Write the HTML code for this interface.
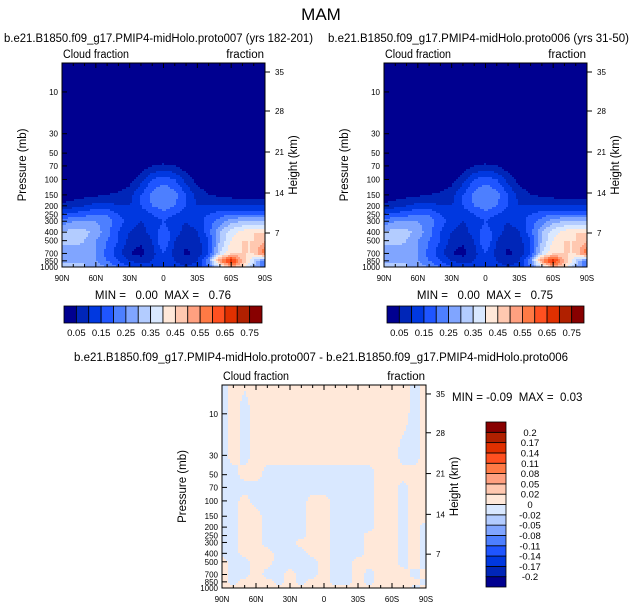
<!DOCTYPE html>
<html><head><meta charset="utf-8">
<style>
html,body{margin:0;padding:0;background:#fff;}
svg{display:block;font-family:"Liberation Sans",sans-serif;}
.t{font-size:11.5px;fill:#000;white-space:pre;}
.tk{font-size:8px;fill:#000;}
.cb{font-size:9.5px;fill:#000;}
</style></head>
<body>
<svg id="fig" width="642" height="610" viewBox="0 0 642 610">
<text x="321" y="20" text-anchor="middle" style="font-size:17px">MAM</text>
<text x="4" y="42" class="t" textLength="309" lengthAdjust="spacingAndGlyphs">b.e21.B1850.f09_g17.PMIP4-midHolo.proto007 (yrs 182-201)</text>
<text x="328" y="42" class="t" textLength="301" lengthAdjust="spacingAndGlyphs">b.e21.B1850.f09_g17.PMIP4-midHolo.proto006 (yrs 31-50)</text>
<text x="321" y="361" text-anchor="middle" class="t" textLength="494" lengthAdjust="spacingAndGlyphs">b.e21.B1850.f09_g17.PMIP4-midHolo.proto007 - b.e21.B1850.f09_g17.PMIP4-midHolo.proto006</text>
<g id="panels"></g>
</svg>
<script>
// ---- data ----
const lats = [90,80,70,60,50,40,30,20,10,0,-10,-20,-30,-40,-50,-60,-70,-80,-90];
const pLevels = [1000,850,700,500,400,300,250,200,150,100,70,50,30,10,3];
const cloudA = [
[0.3,0.32,0.3,0.28,0.25,0.2,0.15,0.12,0.12,0.15,0.12,0.1,0.12,0.2,0.35,0.5,0.45,0.3,0.2],
[0.3,0.28,0.3,0.25,0.2,0.15,0.1,0.08,0.1,0.15,0.1,0.08,0.1,0.25,0.55,0.7,0.5,0.35,0.2],
[0.3,0.27,0.28,0.25,0.18,0.12,0.05,0.03,0.08,0.15,0.08,0.04,0.06,0.15,0.35,0.45,0.45,0.45,0.6],
[0.3,0.32,0.3,0.25,0.2,0.15,0.08,0.06,0.1,0.2,0.1,0.06,0.08,0.15,0.3,0.4,0.45,0.45,0.5],
[0.3,0.33,0.32,0.28,0.22,0.15,0.1,0.08,0.12,0.18,0.12,0.08,0.1,0.18,0.3,0.38,0.42,0.45,0.45],
[0.22,0.25,0.25,0.25,0.22,0.18,0.12,0.1,0.12,0.15,0.12,0.1,0.12,0.18,0.22,0.28,0.3,0.3,0.3],
[0.15,0.17,0.18,0.2,0.2,0.15,0.12,0.12,0.15,0.18,0.15,0.12,0.12,0.15,0.18,0.2,0.2,0.2,0.2],
[0.06,0.08,0.1,0.12,0.12,0.1,0.1,0.15,0.2,0.23,0.2,0.15,0.1,0.1,0.1,0.1,0.1,0.1,0.1],
[0.02,0.02,0.03,0.04,0.05,0.06,0.08,0.15,0.22,0.25,0.22,0.15,0.08,0.05,0.04,0.03,0.03,0.02,0.02],
[0,0,0,0,0,0.01,0.03,0.08,0.15,0.18,0.15,0.08,0.03,0.01,0,0,0,0,0],
[0,0,0,0,0,0,0,0.02,0.05,0.06,0.05,0.02,0,0,0,0,0,0,0],
[0,0,0,0,0,0,0,0,0,0,0,0,0,0,0,0,0,0,0],
[0,0,0,0,0,0,0,0,0,0,0,0,0,0,0,0,0,0,0],
[0,0,0,0,0,0,0,0,0,0,0,0,0,0,0,0,0,0,0],
[0,0,0,0,0,0,0,0,0,0,0,0,0,0,0,0,0,0,0]];
const cloudB = [
[0.3,0.32,0.3,0.28,0.25,0.2,0.15,0.12,0.12,0.15,0.12,0.1,0.12,0.2,0.35,0.5,0.45,0.3,0.2],
[0.3,0.28,0.3,0.25,0.2,0.15,0.1,0.08,0.1,0.15,0.1,0.08,0.1,0.25,0.55,0.69,0.5,0.35,0.2],
[0.3,0.27,0.28,0.25,0.18,0.12,0.05,0.03,0.08,0.15,0.08,0.04,0.06,0.15,0.35,0.45,0.45,0.45,0.6],
[0.3,0.32,0.3,0.25,0.2,0.15,0.08,0.06,0.1,0.2,0.1,0.06,0.08,0.15,0.3,0.4,0.45,0.45,0.5],
[0.3,0.33,0.32,0.28,0.22,0.15,0.1,0.08,0.12,0.18,0.12,0.08,0.1,0.18,0.3,0.38,0.42,0.45,0.45],
[0.22,0.25,0.25,0.25,0.22,0.18,0.12,0.1,0.12,0.15,0.12,0.1,0.12,0.18,0.22,0.28,0.3,0.3,0.3],
[0.15,0.17,0.18,0.2,0.2,0.15,0.12,0.12,0.15,0.18,0.15,0.12,0.12,0.15,0.18,0.2,0.2,0.2,0.2],
[0.06,0.08,0.1,0.12,0.12,0.1,0.1,0.15,0.2,0.23,0.2,0.15,0.1,0.1,0.1,0.1,0.1,0.1,0.1],
[0.02,0.02,0.03,0.04,0.05,0.06,0.08,0.15,0.22,0.25,0.22,0.15,0.08,0.05,0.04,0.03,0.03,0.02,0.02],
[0,0,0,0,0,0.01,0.03,0.08,0.15,0.18,0.15,0.08,0.03,0.01,0,0,0,0,0],
[0,0,0,0,0,0,0,0.02,0.05,0.06,0.05,0.02,0,0,0,0,0,0,0],
[0,0,0,0,0,0,0,0,0,0,0,0,0,0,0,0,0,0,0],
[0,0,0,0,0,0,0,0,0,0,0,0,0,0,0,0,0,0,0],
[0,0,0,0,0,0,0,0,0,0,0,0,0,0,0,0,0,0,0],
[0,0,0,0,0,0,0,0,0,0,0,0,0,0,0,0,0,0,0]];
const p=0.01, n=-0.01;
const cloudDiff = [
[p,p,p,p,p,p,p,p,p,p,p,p,p,p,p,p,p,n,p],
[p,n,p,p,p,n,p,n,p,p,n,n,p,n,p,p,p,p,n],
[p,n,n,p,n,n,p,n,n,p,n,n,p,n,p,p,p,n,p],
[p,n,n,p,p,n,n,n,n,p,n,n,p,p,p,p,n,p,n],
[n,n,p,p,p,n,n,n,p,p,n,n,n,p,p,p,n,p,n],
[n,n,p,p,n,n,n,p,p,p,n,n,n,p,p,p,n,p,n],
[n,n,p,p,n,n,n,n,p,p,n,n,n,p,p,p,n,p,n],
[n,n,p,p,n,n,n,n,p,p,n,n,n,n,p,p,n,p,n],
[n,n,p,p,n,n,n,n,p,p,n,n,n,n,p,p,n,p,p],
[n,n,p,n,n,n,n,n,p,p,n,n,n,n,p,p,n,p,p],
[n,n,n,n,n,n,n,n,n,n,n,n,n,n,p,p,n,p,p],
[n,n,p,p,n,n,n,n,n,n,n,n,n,n,p,p,p,p,p],
[n,p,n,p,p,p,p,p,p,p,p,p,p,p,p,p,n,n,p],
[n,p,n,p,p,p,p,p,p,p,p,p,p,p,p,p,p,n,p],
[n,p,p,p,p,p,p,p,p,p,p,p,p,p,p,p,p,n,p]];
const cloudLevels = [0.05,0.1,0.15,0.2,0.25,0.3,0.35,0.4,0.45,0.5,0.55,0.6,0.65,0.7,0.75];
const cloudLabels = ["0.05","0.15","0.25","0.35","0.45","0.55","0.65","0.75"];
const diffLevels = [-0.2,-0.17,-0.14,-0.11,-0.08,-0.05,-0.02,0,0.02,0.05,0.08,0.11,0.14,0.17,0.2];
const diffLabels = ["-0.2","-0.17","-0.14","-0.11","-0.08","-0.05","-0.02","0","0.02","0.05","0.08","0.11","0.14","0.17","0.2"];
const pTicks = [10,30,50,70,100,150,200,250,300,400,500,700,850,1000];
const latTicks = [90,60,30,0,-30,-60,-90];
const latTickLabels = ["90N","60N","30N","0","30S","60S","90S"];
const kmTicks = ["35","28","21","14","7"];
const palette = ["#000090","#0026b8","#0038e0","#1f55ff","#4d7fff","#80a5ff","#b3ccff","#d9e8ff","#ffe8d9","#ffc8b0","#ffa080","#ff7a45","#ff5020","#e03000","#b02000","#880000"];

const NS="http://www.w3.org/2000/svg";
const root=document.getElementById('panels');
function mk(tag,attrs,parent){const e=document.createElementNS(NS,tag);for(const k in attrs)e.setAttribute(k,attrs[k]);(parent||root).appendChild(e);return e;}
function lvlIndex(v,levels){let i=0;while(i<levels.length&&v>=levels[i])i++;return i;}
function sample(grid,lat,pp){
  let fi=(90-lat)/10; fi=Math.max(0,Math.min(18,fi));
  const i0=Math.min(17,Math.floor(fi)), fx=fi-i0;
  const lp=Math.log10(pp); let j0=0;
  while(j0<pLevels.length-2 && Math.log10(pLevels[j0+1])>lp) j0++;
  const a=Math.log10(pLevels[j0]), b=Math.log10(pLevels[j0+1]);
  let fy=(a-lp)/(a-b); fy=Math.max(0,Math.min(1,fy));
  const v00=grid[j0][i0],v01=grid[j0][i0+1],v10=grid[j0+1][i0],v11=grid[j0+1][i0+1];
  return (v00*(1-fx)+v01*fx)*(1-fy)+(v10*(1-fx)+v11*fx)*fy;
}
function panel(name,x0,y0,w,h,grid,levels){
  const g=mk('g',{});
  
  
  const k=h/(3-Math.log10(4.67));
  const lpTop=3-h/k;
  const yOf=pp=>y0+(Math.log10(pp)-lpTop)*k;
  const xOf=lat=>x0+(90-lat)/180*w;
  const cs=2;
  function flush(x1,x2,yy,ch,c){
    const r=mk('rect',{x:x0+x1,y:y0+yy,width:x2-x1+0.4,height:ch+0.4,fill:palette[c]},g);
    
    
  }
  for(let yy=0;yy<h;yy+=cs){
    const pp=Math.pow(10,lpTop+(yy+cs/2)/k);
    const ch=Math.min(cs,h-yy);
    let runStart=0,runC=-1;
    for(let xx=0;xx<w;xx+=cs){
      const lat=90-(xx+cs/2)/w*180;
      const c=lvlIndex(sample(grid,lat,pp),levels);
      if(c!==runC){
        if(runC>=0) flush(runStart,xx,yy,ch,runC);
        runStart=xx;runC=c;
      }
    }
    if(runC>=0) flush(runStart,w,yy,ch,runC);
  }
  const fr=mk('rect',{x:x0,y:y0,width:w,height:h,fill:'none',stroke:'#000','stroke-width':1},g);
  
  
  pTicks.forEach(pt=>{const y=yOf(pt);
    mk('line',{x1:x0,x2:x0+5,y1:y,y2:y,stroke:'#000'},g);
    const t=mk('text',{x:x0-4,y:y+3,'text-anchor':'end',class:'tk'},g);t.textContent=pt;
    
    });
  for(let lat=90;lat>=-90;lat-=10){const x=xOf(lat);const L=(lat%30===0)?5:3;
    mk('line',{x1:x,x2:x,y1:y0+h,y2:y0+h-L,stroke:'#000'},g);
    mk('line',{x1:x,x2:x,y1:y0,y2:y0+L,stroke:'#000'},g);}
  latTicks.forEach((lat,i)=>{const t=mk('text',{x:xOf(lat),y:y0+h+14,'text-anchor':'middle',class:'tk'},g);t.textContent=latTickLabels[i];
    
    });
  const kmOff=[9,48,89,130,170];
  kmTicks.forEach((lab,i)=>{const y=y0+kmOff[i]*h/204;
    mk('line',{x1:x0+w,x2:x0+w+5,y1:y,y2:y,stroke:'#000'},g);
    const t=mk('text',{x:x0+w+10,y:y+3,class:'tk'},g);t.textContent=lab;
    
    });
  const a=mk('text',{x:0,y:0,class:'t','text-anchor':'middle',transform:`translate(${x0-36},${y0+h/2}) rotate(-90)`},g);a.textContent='Pressure (mb)';
  
  
  const b=mk('text',{x:0,y:0,class:'t','text-anchor':'middle',transform:`translate(${x0+w+32},${y0+h/2}) rotate(-90)`},g);b.textContent='Height (km)';
  
  
  const c1=mk('text',{x:x0+1,y:y0-5,class:'t',textLength:66,lengthAdjust:'spacingAndGlyphs'},g);c1.textContent='Cloud fraction';
  
  
  const c2=mk('text',{x:x0+w-1,y:y0-5,class:'t','text-anchor':'end'},g);c2.textContent='fraction';
  
  
}
function hbar(name,x0,y0,w,h){
  const g=mk('g',{});
  
  
  const bw=w/16;
  palette.forEach((c,i)=>{const r=mk('rect',{x:x0+i*bw,y:y0,width:bw,height:h,fill:c,stroke:'#000','stroke-width':0.8},g);
    
    });
  cloudLabels.forEach((lab,i)=>{const t=mk('text',{x:x0+(2*i+1)*bw,y:y0+h+13,'text-anchor':'middle',class:'cb'},g);t.textContent=lab;
    
    });
}
function vbar(name,x0,y0,w,h){
  const g=mk('g',{});
  
  
  const bh=h/16;
  palette.forEach((c,i)=>{const r=mk('rect',{x:x0,y:y0+(15-i)*bh,width:w,height:bh,fill:c,stroke:'#000','stroke-width':0.8},g);
    
    });
  diffLabels.forEach((lab,i)=>{const t=mk('text',{x:x0+w+24,y:y0+(15-i)*bh+3.5,'text-anchor':'middle',class:'cb'},g);t.textContent=lab;
    
    });
}
function txt(name,x,y,s,anchor){const t=mk('text',{x:x,y:y,class:'t','text-anchor':anchor||'middle'});t.textContent=s;
  
  }

panel('left-panel',62,63,203,204,cloudA,cloudLevels);
panel('right-panel',384,63,203,204,cloudB,cloudLevels);
panel('diff-panel',222,385,204,203,cloudDiff,diffLevels);
hbar('left-colorbar',64,306,198,17);
hbar('right-colorbar',387,306,197,17);
vbar('diff-colorbar',486,422,20,165);
txt('left-min-max',163,299,'MIN =   0.00  MAX =   0.76');
txt('right-min-max',485,299,'MIN =   0.00  MAX =   0.75');
txt('diff-min-max',452,401,'MIN = -0.09  MAX =  0.03','start');
</script>
</body></html>
